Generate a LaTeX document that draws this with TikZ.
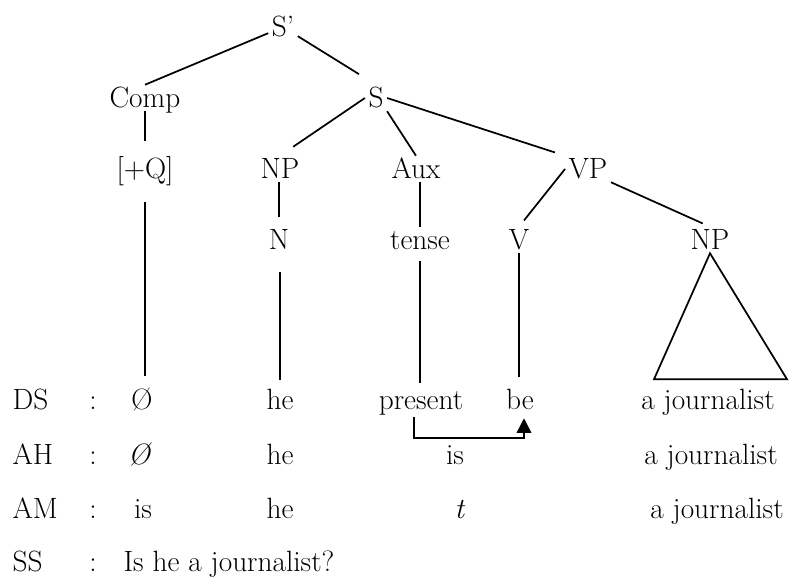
\documentclass[tikz,border=0pt]{standalone}
\usepackage{tikz}
\usetikzlibrary{arrows.meta}

\begin{document}
\begin{tikzpicture}[x=0.75pt,y=-0.75pt,
    word/.style={font=\fontsize{22}{26}\selectfont,inner sep=2.5pt,text height=14.5pt,text depth=0pt},
    branch/.style={line width=1.3pt}]
  \useasboundingbox (0,0) rectangle (789,581);
  % tree
  \node[word] (Sbar) at (283,27) {S'};
  \node[word] (comp) at (145,98) {Comp};
  \node[word] (s) at (376,98) {S};
  \node[word] (q) at (145,169) {[+Q]};
  \node[word] (np) at (280,169) {NP};
  \node[word] (aux) at (416,169) {Aux};
  \node[word] (vp) at (588,169) {VP};
  \node[word] (n) at (279,240) {N};
  \node[word] (tense) at (420,240) {tense};
  \node[word] (v) at (519,240) {V};
  \node[word] (npo) at (710,240) {NP};

  % rows
  \foreach \lab/\y in {DS/400,AH/455,AM/509,SS/562}{
    \node[word,anchor=west] (\lab) at (9,\y) {\lab};
    \node[word] (\lab-colon) at (93,\y) {:};
  }
  \node[word] (ds-null) at (142,400) {\O};
  \node[word] (ds-he) at (280,400) {he};
  \node[word] (ds-pres) at (421,400) {present};
  \node[word] (ds-be) at (520,400) {be};
  \node[word] (ds-np) at (708,400) {a journalist};
  \node[word] (ah-null) at (140,455) {\textit{\O}};
  \node[word] (ah-he) at (280,455) {he};
  \node[word] (ah-is) at (455,455) {is};
  \node[word] (ah-np) at (711,455) {a journalist};
  \node[word] (am-is) at (143,509) {is};
  \node[word] (am-he) at (280,509) {he};
  \node[word] (am-t) at (460,509) {\textit{t}};
  \node[word] (am-np) at (717,509) {a journalist};
  \node[word,anchor=west] (ss-text) at (120,562) {Is he a journalist?};

  % branches
  \draw[branch] (Sbar) -- (comp.north);
  \draw[branch,shorten >=15pt] (Sbar) -- (s.north);
  \draw[branch,shorten >=11pt] (comp) -- (q);
  \draw[branch,shorten >=12pt] (s.west) -- (np.north);
  \draw[branch] (s.south east) -- (aux.north);
  \draw[branch,shorten >=8pt] (s.east) -- (vp.north west);
  \draw[branch,shorten >=7pt] (np.south -| n) -- (n);
  \draw[branch] (aux.south -| tense) -- (tense);
  \draw[branch,shorten >=6pt] (vp.west) -- (v.north);
  \draw[branch,shorten >=6pt] (vp.south east) -- (npo.north);
  \draw[branch,shorten <=15pt,shorten >=8pt] (q.south) -- (q.south |- ds-null.north);
  \draw[branch,shorten <=14pt,shorten >=5pt] (n.south -| ds-he) -- (ds-he);
  \draw[branch,shorten <=6pt,shorten >=3pt] (tense) -- (tense |- ds-pres.north);
  \draw[branch,shorten >=7pt] (v) -- (v |- ds-be.north);
  \draw[branch,line join=miter] (npo.south) -- ++(-56,126) -- ++(133,0) -- cycle;

  % movement of tense onto be
  \draw[branch,-{Triangle[length=11pt,width=11pt]}] ([xshift=-5pt,yshift=-3pt]ds-pres.south)
    -- ++(0,21) -| ([xshift=3pt,yshift=-3.75pt]ds-be.south);
\end{tikzpicture}
\end{document}
